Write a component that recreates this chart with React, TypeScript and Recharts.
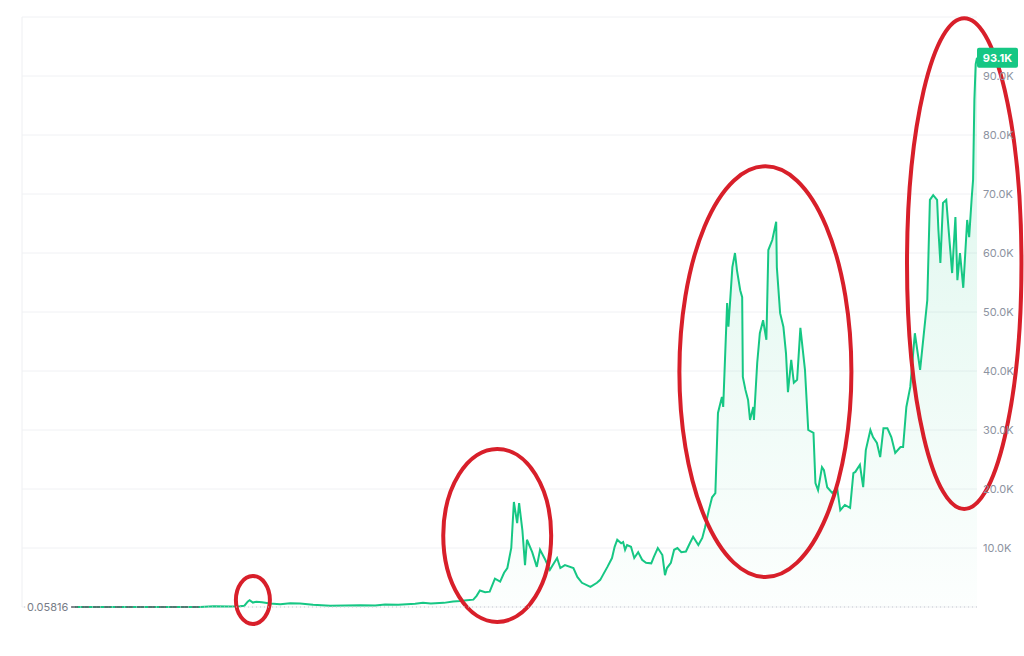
import { AreaChart, Area, XAxis, YAxis, CartesianGrid, ReferenceLine, ReferenceArea } from 'recharts'

const GREEN = '#16c784'
const RING = '#d81f2a'

const times2011to2016 = [2011.16, 2011.45, 2011.75, 2012.1, 2012.45, 2012.7, 2013.07, 2013.28, 2013.53, 2013.68, 2013.75, 2013.8, 2013.83, 2013.88, 2013.93, 2014.02, 2014.14, 2014.3, 2014.45, 2014.6, 2014.8, 2015.06, 2015.3, 2015.52, 2015.75, 2015.9, 2016.1, 2016.36, 2016.48, 2016.6, 2016.8, 2016.94]
const prices2011to2016 = [1, 17, 4, 5, 7, 12, 20, 140, 95, 130, 220, 900, 1150, 750, 900, 800, 600, 450, 640, 580, 380, 220, 240, 280, 240, 420, 400, 550, 700, 600, 700, 950]

const times2017to2018 = [2017.05, 2017.15, 2017.25, 2017.3, 2017.35, 2017.43, 2017.5, 2017.58, 2017.66, 2017.72, 2017.77, 2017.83, 2017.87, 2017.92, 2017.95, 2018.0, 2018.04, 2018.07, 2018.15, 2018.22, 2018.27, 2018.35, 2018.42, 2018.53, 2018.58, 2018.65, 2018.78, 2018.84, 2018.91]
const prices2017to2018 = [1000, 1150, 1250, 1900, 2800, 2500, 2600, 4800, 4300, 5800, 6600, 10000, 17800, 14200, 17600, 13000, 7100, 11400, 9300, 6800, 9700, 8000, 6300, 8300, 6600, 7100, 6600, 5100, 4100]

const times2019to2020 = [2019.04, 2019.14, 2019.19, 2019.23, 2019.3, 2019.37, 2019.41, 2019.45, 2019.51, 2019.54, 2019.57, 2019.6, 2019.66, 2019.71, 2019.77, 2019.83, 2019.89, 2019.97, 2020.01, 2020.07, 2020.14, 2020.18, 2020.21, 2020.27, 2020.32, 2020.37, 2020.43, 2020.5, 2020.56, 2020.61, 2020.69, 2020.75, 2020.79, 2020.85, 2020.9, 2020.95, 2020.99]
const prices2019to2020 = [3400, 4100, 4600, 5400, 6800, 8300, 10200, 11400, 10800, 11000, 9700, 10500, 10200, 8300, 9300, 8000, 7500, 7400, 8500, 10000, 8800, 5400, 6600, 7500, 9700, 10000, 9300, 9400, 10800, 11900, 10500, 11700, 13400, 16400, 18600, 19300, 32900]

const times2021to2022 = [2021.05, 2021.07, 2021.13, 2021.15, 2021.21, 2021.25, 2021.28, 2021.33, 2021.36, 2021.37, 2021.41, 2021.45, 2021.48, 2021.53, 2021.54, 2021.59, 2021.63, 2021.68, 2021.73, 2021.76, 2021.82, 2021.88, 2021.89, 2021.94, 2021.99, 2022.03, 2022.06, 2022.11, 2022.15, 2022.2, 2022.25, 2022.32, 2022.37, 2022.45, 2022.48, 2022.52, 2022.58, 2022.61, 2022.66, 2022.74, 2022.81, 2022.86, 2022.93]
const prices2021to2022 = [35600, 33900, 51500, 47500, 57600, 60000, 57100, 53700, 52500, 39000, 36800, 35100, 31700, 33900, 31700, 41400, 46400, 48600, 45300, 60500, 62200, 65300, 57600, 49800, 47500, 43000, 36400, 41900, 38000, 38500, 47300, 40200, 30000, 29500, 21000, 19800, 23700, 23200, 20300, 19300, 20300, 16400, 17300]

const times2023to2024 = [2023.01, 2023.06, 2023.09, 2023.16, 2023.21, 2023.25, 2023.32, 2023.36, 2023.42, 2023.47, 2023.52, 2023.58, 2023.64, 2023.7, 2023.78, 2023.82, 2023.87, 2023.93, 2024.0, 2024.08, 2024.19, 2024.23, 2024.28, 2024.34, 2024.36, 2024.39, 2024.43, 2024.48, 2024.52, 2024.57, 2024.62, 2024.65, 2024.69, 2024.74, 2024.8, 2024.83, 2024.87, 2024.89, 2024.91, 2024.93, 2024.95]
const prices2023to2024 = [16800, 22700, 22900, 24100, 20300, 26600, 30000, 28800, 27800, 25400, 30300, 30300, 28800, 26100, 27100, 27100, 33900, 37300, 46400, 40200, 52000, 69000, 69800, 69000, 63900, 58300, 68500, 69000, 63400, 56600, 66100, 55400, 60000, 54100, 65600, 62700, 69500, 72400, 86000, 92000, 93100]

const yTicks = [10000, 20000, 30000, 40000, 50000, 60000, 70000, 80000, 90000, 100000]
const openPrice = 0.05816
const lastPrice = 93100
const lastPriceLabel = '93.1K'

// hand-drawn red rings: [x1, x2, y1, y2] in data units
const rings = [
  [2013.62, 2014.14, -2880, 5250],
  [2016.79, 2018.44, -2540, 26800],
  [2020.4, 2023.03, 5080, 74700],
  [2023.88, 2025.63, 16600, 99800],
]

const times = [...times2011to2016, ...times2017to2018, ...times2019to2020, ...times2021to2022, ...times2023to2024]
const prices = [...prices2011to2016, ...prices2017to2018, ...prices2019to2020, ...prices2021to2022, ...prices2023to2024]
const data = times.map((t, i) => ({ t, price: prices[i] }))

const PriceTick = ({ x, y, payload }: any) => {
  if (payload.value === 100000) return <g />
  return (
    <text x={x} y={y} dy={4} fill="#8d93a1" fontSize={11} textAnchor="start">
      {(payload.value / 1000).toFixed(1)}K
    </text>
  )
}

const OpenLabel = ({ viewBox }: any) => (
  <g>
    <rect x={viewBox.x + 4} y={viewBox.y - 7} width={46} height={14} fill="#fff" />
    <text x={viewBox.x + 5} y={viewBox.y + 4} fill="#787d87" fontSize={11}>{openPrice}</text>
  </g>
)

const LastTag = ({ viewBox }: any) => {
  const left = viewBox.x + viewBox.width
  return (
    <g>
      <rect x={left} y={viewBox.y - 10} width={41} height={20} rx={2} fill={GREEN} />
      <text x={left + 20.5} y={viewBox.y + 4} fill="#fff" fontSize={11} fontWeight={700} textAnchor="middle">{lastPriceLabel}</text>
    </g>
  )
}

const Ring = ({ x, y, width, height }: any) => (
  <ellipse cx={x + width / 2} cy={y + height / 2} rx={Math.abs(width) / 2} ry={Math.abs(height) / 2} fill="none" stroke={RING} strokeWidth={4} />
)

export default function App() {
  return (
    <div style={{ position: 'absolute', left: 0, top: 0, width: 1024, height: 656, background: '#fff', fontFamily: 'Inter, "Noto Sans", sans-serif' }}>
      <AreaChart width={1024} height={656} data={data} margin={{ top: 17, right: 0, bottom: 49, left: 22 }}>
        <defs>
          <linearGradient id="btcFill" x1="0" y1="0" x2="0" y2="1">
            <stop offset="0%" stopColor={GREEN} stopOpacity={0.26} />
            <stop offset="100%" stopColor={GREEN} stopOpacity={0.02} />
          </linearGradient>
        </defs>
        <CartesianGrid vertical={false} stroke="#f0f1f4" />
        <XAxis type="number" dataKey="t" domain={[2010.35, 2024.95]} hide />
        <YAxis orientation="right" domain={[0, 100000]} ticks={yTicks} width={47} axisLine={false} tickLine={false} tickSize={0} tickMargin={6} tick={<PriceTick />} />
        <ReferenceLine x={2010.35} stroke="#eeeff2" ifOverflow="visible" />
        <ReferenceLine y={openPrice} stroke="#c6c9d0" strokeDasharray="1 3" ifOverflow="visible" label={<OpenLabel />} />
        <Area type="linear" dataKey="price" stroke={GREEN} strokeWidth={2} fill="url(#btcFill)" dot={false} activeDot={false} isAnimationActive={false} />
        <ReferenceLine segment={[{ x: 2011.1, y: openPrice }, { x: 2013.05, y: openPrice }]} stroke="#5f636b" strokeDasharray="7 4" strokeWidth={1.5} ifOverflow="visible" />
        <ReferenceLine y={lastPrice} stroke="none" ifOverflow="visible" label={<LastTag />} />
        {rings.map(([x1, x2, y1, y2], i) => (
          <ReferenceArea key={i} x1={x1} x2={x2} y1={y1} y2={y2} ifOverflow="visible" shape={<Ring />} />
        ))}
      </AreaChart>
    </div>
  )
}
